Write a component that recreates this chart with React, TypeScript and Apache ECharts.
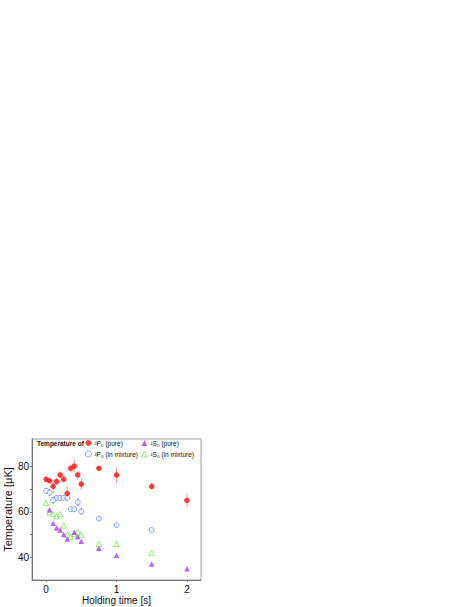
import React, { useEffect, useRef } from "react";
import * as echarts from "echarts";

const timesAll = [0, 0.05, 0.1, 0.15, 0.2, 0.25, 0.3, 0.35, 0.4, 0.45, 0.5, 0.75, 1.0, 1.5, 2.0];
const p0Pure = [74.3, 73.6, 71.2, 73.3, 76.2, 74.3, 68.1, 79.1, 80.1, 76.2, 72.2, 79.1, 76.2, 71.2, 65.0];
const p0PureErr = [1, 1, 3, 1.5, 1.5, 1.5, 3.3, 1.5, 3, 2, 2.5, 1, 3.5, 1.5, 3];

const timesMix = [0, 0.05, 0.1, 0.15, 0.2, 0.25, 0.3, 0.35, 0.4, 0.45, 0.5, 0.75, 1.0, 1.5];
const p0Mix = [69.2, 68.5, 65.1, 66.1, 66.1, 66.1, 66.1, 61.1, 61.1, 64.2, 60.1, 57.0, 54.1, 52.0];
const p0MixErr = [1, 1.5, 1.5, 1, 1, 1, 1, 1, 1, 1.5, 1.5, 1, 1, 0.7];
const s0Mix = [64.0, 59.8, 59.0, 58.1, 59.0, 54.0, 50.0, 49.0, 50.3, 51.0, 50.0, 45.9, 45.9, 41.9];

const timesS0Pure = [0.05, 0.1, 0.15, 0.2, 0.25, 0.3, 0.4, 0.45, 0.5, 0.75, 1.0, 1.5, 2.0];
const s0Pure = [60.9, 55.0, 53.0, 52.0, 50.0, 48.0, 51.0, 49.0, 47.0, 44.0, 40.9, 37.0, 35.0];

const xTicks = [0, 1, 2];
const yLabels = [40, 60, 80];
const yTicks = [40, 50, 60, 70, 80];

const N_P0_PURE = "³P₀ (pure)";
const N_P0_MIX = "³P₀ (in mixture)";
const N_S0_PURE = "¹S₀ (pure)";
const N_S0_MIX = "¹S₀ (in mixture)";

const RED = "#ff1010";
const BLUE = "#5b7cf0";
const GREEN = "#6fe03a";
const PURPLE = "#a63ff2";

function errorSeries(xs: number[], ys: number[], errs: number[], color: string) {
  return {
    type: "custom",
    silent: true,
    z: 1,
    data: xs.map((x, i) => [x, ys[i] - errs[i], ys[i] + errs[i]]),
    renderItem: (params: any, api: any) => {
      const lo = api.coord([api.value(0), api.value(1)]);
      const hi = api.coord([api.value(0), api.value(2)]);
      return {
        type: "line",
        shape: { x1: lo[0], y1: lo[1], x2: hi[0], y2: hi[1] },
        style: { stroke: color, lineWidth: 1 },
      };
    },
  };
}

export default function App() {
  const ref = useRef<HTMLDivElement>(null);
  useEffect(() => {
    if (!ref.current) return;
    const chart = echarts.init(ref.current, null, { renderer: "svg" });
    const font = "'Liberation Sans', Arial, sans-serif";
    const legendText = { fontSize: 6.5, color: "#111", padding: [0, 0, 0, -2], fontFamily: font, lineHeight: 8 };
    const legendBase = {
      top: 439,
      orient: "vertical",
      itemWidth: 6,
      itemHeight: 6,
      itemGap: 3,
      padding: 0,
      textStyle: legendText,
    };
    const filled = { borderWidth: 0 };
    const open = { borderWidth: 0.9 };
    chart.setOption({
      animation: false,
      textStyle: { fontFamily: font },
      grid: {
        left: 32,
        right: 268,
        top: 439,
        bottom: 27,
        show: true,
        borderColor: "#a0a0a0",
        borderWidth: 1,
      },
      graphic: [
        {
          type: "text",
          left: 37,
          top: 439.5,
          style: { text: "Temperature of", fontSize: 6.5, fontWeight: "bold", fill: "#111", fontFamily: font },
        },
      ],
      legend: [
        {
          ...legendBase,
          left: 85,
          data: [
            { name: N_P0_PURE, itemStyle: filled },
            { name: N_P0_MIX, itemStyle: open },
          ],
        },
        {
          ...legendBase,
          left: 141,
          data: [
            { name: N_S0_PURE, itemStyle: filled },
            { name: N_S0_MIX, itemStyle: open },
          ],
        },
      ],
      xAxis: {
        type: "value",
        min: -0.2,
        max: 2.2,
        name: "Holding time [s]",
        nameLocation: "middle",
        nameGap: 15,
        nameTextStyle: { fontSize: 10, color: "#111", fontFamily: font },
        splitLine: { show: false },
        axisLine: { show: true, onZero: false, lineStyle: { color: "#777", width: 1 } },
        axisTick: { show: true, length: 2, lineStyle: { color: "#777" }, customValues: xTicks },
        axisLabel: { fontSize: 10, color: "#111", margin: 4, customValues: xTicks, fontFamily: font },
      },
      yAxis: {
        type: "value",
        min: 30,
        max: 92,
        name: "Temperature [μK]",
        nameLocation: "middle",
        nameGap: 18,
        nameTextStyle: { fontSize: 11, color: "#111", fontFamily: font },
        splitLine: { show: false },
        axisLine: { show: true, onZero: false, lineStyle: { color: "#777", width: 1 } },
        axisTick: { show: true, length: 2, lineStyle: { color: "#777" }, customValues: yTicks },
        axisLabel: { fontSize: 10, color: "#111", margin: 3, customValues: yLabels, fontFamily: font },
      },
      series: [
        errorSeries(timesAll, p0Pure, p0PureErr, "#f59a9a"),
        errorSeries(timesMix, p0Mix, p0MixErr, BLUE),
        {
          name: N_S0_MIX,
          type: "scatter",
          symbol: "triangle",
          symbolSize: 5.5,
          itemStyle: { color: "#ffffff", borderColor: GREEN, borderWidth: 0.9 },
          data: timesMix.map((x, i) => [x, s0Mix[i]]),
          z: 2,
        },
        {
          name: N_S0_PURE,
          type: "scatter",
          symbol: "triangle",
          symbolSize: 5.5,
          itemStyle: { color: PURPLE, borderWidth: 0 },
          data: timesS0Pure.map((x, i) => [x, s0Pure[i]]),
          z: 3,
        },
        {
          name: N_P0_MIX,
          type: "scatter",
          symbol: "circle",
          symbolSize: 5,
          itemStyle: { color: "#ffffff", borderColor: BLUE, borderWidth: 0.9 },
          data: timesMix.map((x, i) => [x, p0Mix[i]]),
          z: 3,
        },
        {
          name: N_P0_PURE,
          type: "scatter",
          symbol: "circle",
          symbolSize: 5.5,
          itemStyle: { color: RED, borderWidth: 0 },
          data: timesAll.map((x, i) => [x, p0Pure[i]]),
          z: 4,
        },
      ],
    });
    return () => chart.dispose();
  }, []);
  return (
    <div
      ref={ref}
      style={{ position: "fixed", left: 0, top: 0, width: 469, height: 607, background: "#fff" }}
    />
  );
}
